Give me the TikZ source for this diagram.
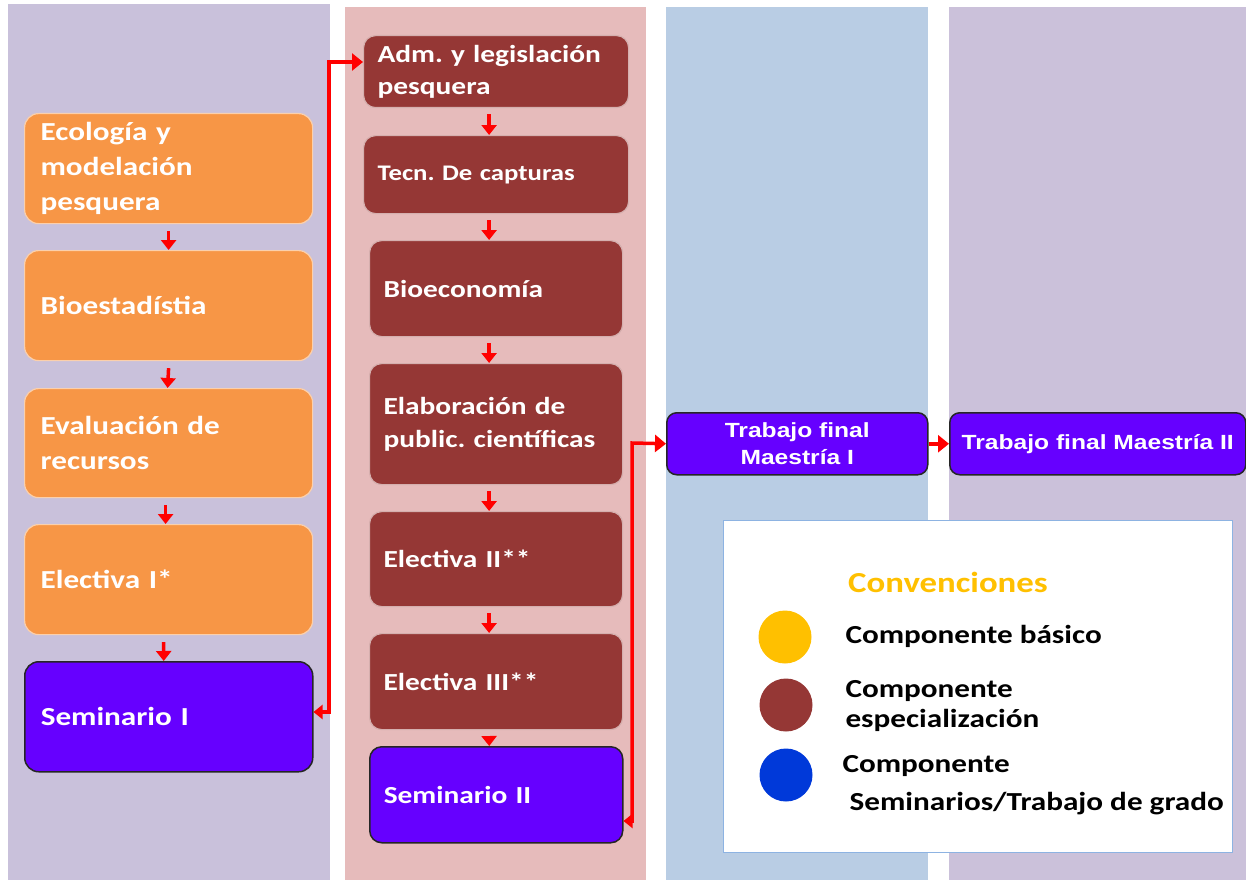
\documentclass[tikz,border=0pt]{standalone}
\usepackage{fontspec}
\setmainfont{Carlito}[FakeStretch=1.2]
\newfontfamily\arialf{Liberation Sans}[FakeStretch=1.2]
\usetikzlibrary{arrows.meta}
\definecolor{colA}{HTML}{C9C1DB}
\definecolor{colB}{HTML}{E6BBBB}
\definecolor{colC}{HTML}{B9CDE4}
\definecolor{colD}{HTML}{CBC1DA}
\definecolor{orangeC}{HTML}{F79646}
\definecolor{redC}{HTML}{953735}
\definecolor{purpleC}{HTML}{6600FF}
\definecolor{yellowC}{HTML}{FFC000}
\definecolor{blueC}{HTML}{0039D9}
\definecolor{legborder}{HTML}{8DB3E2}
\begin{document}
\frenchspacing
\begin{tikzpicture}[x=1pt,y=-1pt,
  base/.style={anchor=north west, inner xsep=16pt, inner ysep=0pt, align=left, text=white,
    font=\bfseries\fontsize{26}{35}\selectfont},
  obox/.style={base, rounded corners=14pt, fill=orangeC, draw=orangeC!45!white, line width=1.2pt},
  rbox/.style={base, rounded corners=12pt, fill=redC, draw=redC!40!white, line width=1.2pt, inner xsep=14pt,
    font=\bfseries\fontsize{24.5}{32.5}\selectfont},
  pbox/.style={base, rounded corners=14pt, fill=purpleC, draw=black!85, line width=1.5pt},
  tbox/.style={anchor=north west, rounded corners=10pt, fill=purpleC, draw=black!85, line width=1.5pt,
    text=white, align=center, inner sep=0pt, font=\arialf\bfseries\fontsize{20.5}{27}\selectfont},
  rarrow/.style={draw=red, line width=3.5pt, -{Triangle[length=10pt,width=15pt]}},
  elbow/.style={draw=red, line width=3.5pt, {Triangle[length=9pt,width=14pt]}-{Triangle[length=11pt,width=17pt]}},
  legtext/.style={anchor=west, font=\bfseries\fontsize{26}{30}\selectfont, align=left},
  dot/.style={circle, minimum size=53pt, inner sep=0pt}
]
\useasboundingbox (0,0) rectangle (1246,880);
\fill[white] (0,0) rectangle (1246,880);
% columns
\fill[colA] (8,4) rectangle (330,880);
\fill[colB] (345,7) rectangle (646,880);
\fill[colC] (666,7) rectangle (928,880);
\fill[colD] (949,7) rectangle (1246,880);

% column 1
\node[obox, minimum width=288pt, minimum height=110pt, text width=256pt] (eco) at (24,113) {Ecología y\\modelación\\pesquera};
\node[obox, minimum width=288pt, minimum height=110pt, text width=256pt] (bio) at (24,250) {Bioestadístia};
\node[obox, minimum width=288pt, minimum height=109pt, text width=256pt] (eva) at (24,388) {Evaluación de\\recursos};
\node[obox, minimum width=288pt, minimum height=110pt, text width=256pt] (el1) at (24,524) {Electiva I*};
\node[pbox, minimum width=288pt, minimum height=110pt, text width=256pt] (sem1) at (24,661) {Seminario I};

% column 2
\node[rbox, minimum width=265pt, minimum height=72pt, text width=237pt] (adm) at (363,35) {Adm. y legislación\\pesquera};
\node[rbox, minimum width=265pt, minimum height=78pt, text width=237pt, font=\bfseries\fontsize{22.3}{30}\selectfont] (tec) at (363,135) {Tecn. De capturas};
\node[rbox, minimum width=253pt, minimum height=96pt, text width=225pt] (bioe) at (369,240) {Bioeconomía};
\node[rbox, minimum width=253pt, minimum height=121pt, text width=225pt] (ela) at (369,363) {Elaboración de\\public. científicas};
\node[rbox, minimum width=253pt, minimum height=95pt, text width=225pt] (el2) at (369,511) {Electiva II**};
\node[rbox, minimum width=253pt, minimum height=96pt, text width=225pt] (el3) at (369,633) {Electiva III**};
\node[pbox, rounded corners=12pt, inner xsep=14pt, font=\bfseries\fontsize{24.5}{32.5}\selectfont, minimum width=253pt, minimum height=96pt, text width=225pt] (sem2) at (369,746) {Seminario II};

% column 3 / 4
\node[tbox, minimum width=261pt, minimum height=62pt] (tf1) at (666,412) {Trabajo final\\Maestría I};
\node[tbox, minimum width=296pt, minimum height=62pt] (tf2) at (949,412) {Trabajo final Maestría II};

% vertical arrows column 1
\draw[rarrow] ([yshift=-7pt]eco.south) -- (bio.north);
\draw[rarrow] ([yshift=-7pt]bio.south) -- ([xshift=-1pt]bio.south |- eva.north);
\draw[rarrow] ([yshift=-7pt,xshift=-3pt]eva.south) -- ([xshift=-3pt]el1.north);
\draw[rarrow] ([yshift=-7pt,xshift=-5pt]el1.south) -- ([xshift=-5pt]sem1.north);

% vertical arrows column 2
\draw[rarrow] ([yshift=-6pt,xshift=-7pt]adm.south) -- ([xshift=-7pt]tec.north);
\draw[rarrow] ([yshift=-6pt,xshift=-7pt]tec.south) -- ([xshift=-7pt]tec.south |- bioe.north);
\draw[rarrow] ([yshift=-6pt,xshift=-7pt]bioe.south) -- ([xshift=-7pt]ela.north);
\draw[rarrow] ([yshift=-6pt,xshift=-7pt]ela.south) -- ([xshift=-7pt]el2.north);
\draw[rarrow] ([yshift=-6pt,xshift=-7pt]el2.south) -- ([xshift=-7pt]el3.north);
\draw[rarrow] ([yshift=-6pt,xshift=-7pt]el3.south) -- ([xshift=-7pt]sem2.north);

% elbow connectors
\coordinate (s1out) at (sem1.east |- 0,712);
\coordinate (admin) at (adm.west |- 0,62);
\draw[elbow] (s1out) -- (329,712) -- (329,62) -- (admin);
\coordinate (s2out) at (sem2.east |- 0,821);
\draw[elbow] (s2out) -- (632,821) -- (632,443) -- (tf1.west);
\draw[rarrow, -{Triangle[length=11pt,width=17pt]}] (tf1.east) -- (tf2.west);

% legend
\node[anchor=north west, fill=white, draw=legborder, line width=1pt, minimum width=509pt, minimum height=332pt, inner sep=0pt] (leg) at (723,520) {};
\node[font=\bfseries\fontsize{29}{32}\selectfont, text=yellowC] (convt) at (948,582) {Convenciones};
\node[dot, fill=yellowC] (d1) at (785,637) {};
\node[dot, fill=redC] (d2) at (786,705) {};
\node[dot, fill=blueC] (d3) at (786,775) {};
\node[legtext] (l1) at (842,636) {Componente básico};
\node[legtext] (l2) at (842,706) {Componente\\especialización};
\node[legtext] (l3) at (839,785) {Componente\\[8pt]\ Seminarios/Trabajo de grado};
\end{tikzpicture}
\end{document}
